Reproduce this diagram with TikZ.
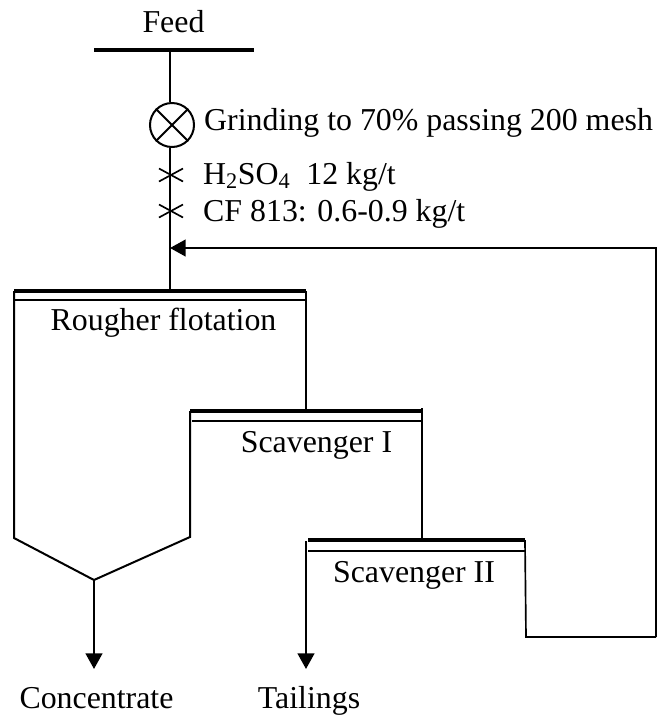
\documentclass[tikz,border=0pt]{standalone}
\usepackage{fontspec}
\setmainfont{Liberation Serif}
\usetikzlibrary{arrows.meta}
\tikzset{
  line/.style={line width=.06cm},
  bar/.style={line width=.1cm},
  flow/.style={line width=.07cm,-{Triangle[width=.5cm,length=.47cm]}},
  lab/.style={inner sep=0pt,font=\fontsize{27.2}{32}\selectfont},
  grinder/.style={circle,draw,line width=.06cm,minimum size=1.32cm,inner sep=0pt},
}
\begin{document}
\begin{tikzpicture}[x=.03cm,y=-.03cm]
\useasboundingbox (0,0) rectangle (657,717);
% feed line
\node[lab,anchor=base](feed) at (173.5,32){Feed};
\coordinate(barL) at (94,50);
\coordinate(barR) at (254,50);
\coordinate(barM) at (170,50);
\draw[bar](barL) -- (barR);
\node[grinder](grinder) at (172,125){};
\draw[line](grinder.north west) -- (grinder.south east);
\draw[line](grinder.north east) -- (grinder.south west);
\coordinate(rIn) at (170,291);
\draw[line](barM) -- (grinder.north -| barM);
\draw[line](grinder.south -| barM) -- (rIn);
\node[lab,anchor=base west](grind) at (204,130){Grinding to 70\% passing 200 mesh};
% reagents
\coordinate(xa) at (171,175);
\coordinate(xb) at (171,211);
\draw[line width=.05cm](xa)+(-12,-6.5) -- +(12,6.5) (xa)+(-12,6.5) -- +(12,-6.5);
\draw[line width=.05cm](xb)+(-12,-6.5) -- +(12,6.5) (xb)+(-12,6.5) -- +(12,-6.5);
\node[lab,anchor=base west](acid) at (203,184){H\textsubscript{2}SO\textsubscript{4}\ \ 12 kg/t};
\node[lab,anchor=base west](cf) at (203,221){CF 813: 0.6-0.9 kg/t};
% rougher
\coordinate(rTL) at (14,291);
\coordinate(rTR) at (306,291);
\coordinate(rBL) at (14,538);
\coordinate(rTip) at (94,580);
\coordinate(sTL) at (190,411);
\coordinate(sBL) at (190,537);
\draw[bar](rTL) -- (rTR);
\draw[line](14,300) -- (306,300);
\draw[line](rTL) -- (rBL) -- (rTip) -- (sBL) -- (sTL);
\draw[line](rTR) -- (sTL -| rTR);
\node[lab,anchor=base](rough) at (163.5,330){Rougher flotation};
% scavenger I
\coordinate(sTR) at (422,411);
\coordinate(tTL) at (308,540);
\coordinate(tTR) at (525,540);
\draw[bar](sTL) -- (sTR);
\draw[line](192,421) -- (423,421);
\draw[line](422,408) -- (tTL -| sTR);
\node[lab,anchor=base](scavA) at (316.5,452){Scavenger I};
% scavenger II
\draw[bar](tTL) -- (tTR);
\draw[line](308,551) -- (526,551);
\node[lab,anchor=base](scavB) at (414,582){Scavenger II};
% recycle
\coordinate(bL) at (526,637);
\coordinate(bR) at (656,637);
\coordinate(bT) at (656,248);
\draw[line width=.05cm](tTR) -- (bL) -- (bR);
\draw[flow](bR) -- (bT) -- (rIn |- bT);
% products
\coordinate(conc) at (94,669);
\coordinate(tailTop) at (306,541);
\coordinate(tail) at (306,669);
\draw[flow](rTip) -- (conc);
\draw[flow](tailTop) -- (tail);
\node[lab,anchor=base](concL) at (96.5,708){Concentrate};
\node[lab,anchor=base](tailL) at (309,708){Tailings};
\end{tikzpicture}
\end{document}
